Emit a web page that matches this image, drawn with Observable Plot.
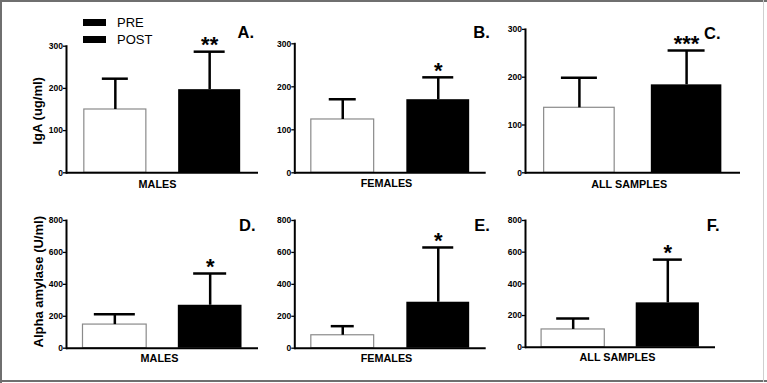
<!DOCTYPE html>
<html><head><meta charset="utf-8">
<script src="https://cdn.jsdelivr.net/npm/d3@7"></script>
<script src="https://cdn.jsdelivr.net/npm/@observablehq/plot@0.6"></script>
<style>
body{margin:0;background:#fff;}
#root{position:relative;width:767px;height:383px;overflow:hidden;background:#fff;font-family:"Liberation Sans",Arial,sans-serif;}
.panel{position:absolute;}
.panel g[aria-label="y-axis tick label"] text, .panel g[aria-label="y-axis tick label"]{font-weight:bold;}
.bd{position:absolute;background:#6f6f6f;}
.sw{position:absolute;width:23px;height:7px;background:#000;}
.lt{position:absolute;font-size:13px;line-height:13px;color:#000;white-space:nowrap;}
</style></head><body><div id="root"></div>
<script>
// ---- data ----
const groups = ["MALES", "FEMALES", "ALL SAMPLES"];
const conditions = ["PRE", "POST"];
const igaPre = [150, 124, 136];
const igaPreUpper = [223, 171, 199];
const igaPost = [197, 170, 184];
const igaPostUpper = [287, 222, 256];
const igaSig = ["**", "*", "***"];
const amyPre = [148, 81, 112];
const amyPreUpper = [213, 138, 181];
const amyPost = [269, 288, 280];
const amyPostUpper = [468, 631, 553];
const amySig = ["*", "*", "*"];
const igaTicks = [0, 100, 200, 300];
const amyTicks = [0, 200, 400, 600, 800];
const panelLetters = ["A.", "B.", "C.", "D.", "E.", "F."];
const yTitles = ["IgA (ug/ml)", "Alpha amylase (U/ml)"];
const legendLabels = ["PRE", "POST"];

// ---- layout (page pixels) ----
const layout = [
  {left:0,   top:0,   width:268, height:195, ml:66,   mr:10,   mt:45.7, mb:22.7, pi:0.3425, po:0.189, capPre:26, capPost:31, lx:253.5, ly:37.3, gx:157,   gy:187,   tdx:-25, tdy:1.3},
  {left:268, top:0,   width:232, height:195, ml:26.3, mr:14.3, mt:43.3, mb:22.7, pi:0.342,  po:0.173, capPre:27, capPost:31, lx:489.3, ly:37.3, gx:386,   gy:186},
  {left:500, top:0,   width:267, height:195, ml:25,   mr:27,   mt:28.9, mb:22.7, pi:0.342,  po:0.174, capPre:36, capPost:37, lx:720,   ly:38.5, gx:628.7, gy:187.7},
  {left:0,   top:195, width:268, height:188, ml:66,   mr:10,   mt:25,   mb:35.3, pi:0.332,  po:0.173, capPre:41, capPost:33, lx:255,   ly:230.7, gx:159,  gy:361.7, tdx:-24, tdy:-2.6},
  {left:268, top:195, width:232, height:188, ml:26.3, mr:14.3, mt:25,   mb:35.3, pi:0.342,  po:0.173, capPre:23, capPost:31, lx:489.3, ly:230.7, gx:386,  gy:361.7},
  {left:500, top:195, width:267, height:188, ml:25,   mr:52,   mt:25,   mb:36.3, pi:0.332,  po:0.17,  capPre:33, capPost:29, lx:719,   ly:230.7, gx:617,  gy:360.7}
];

const root = document.getElementById("root");
const FONT = '"Liberation Sans", Arial, sans-serif';

function makePanel(idx) {
  const row = idx < 3 ? 0 : 1;
  const g = idx % 3;
  const L = layout[idx];
  const pre = row === 0 ? igaPre : amyPre;
  const preU = row === 0 ? igaPreUpper : amyPreUpper;
  const post = row === 0 ? igaPost : amyPost;
  const postU = row === 0 ? igaPostUpper : amyPostUpper;
  const sig = row === 0 ? igaSig : amySig;
  const ticks = row === 0 ? igaTicks : amyTicks;
  const rows = [
    {cond: conditions[0], mean: pre[g], upper: preU[g], sig: ""},
    {cond: conditions[1], mean: post[g], upper: postU[g], sig: sig[g]}
  ];
  const innerW = L.width - L.ml - L.mr;
  const step = innerW / (2 - L.pi + 2 * L.po);
  const bw = step * (1 - L.pi);
  const ax = L.left + L.ml, ay = L.top + L.mt;
  const marks = [
    Plot.barY(rows.filter(d => d.cond === "PRE"), {x: "cond", y: "mean", fill: "#fff", stroke: "#8a8a8a", strokeWidth: 1.2}),
    Plot.barY(rows.filter(d => d.cond === "POST"), {x: "cond", y: "mean", fill: "#000"}),
    Plot.ruleX(rows, {x: "cond", y1: "mean", y2: "upper", stroke: "#000", strokeWidth: 2.5}),
    Plot.tickY(rows.filter(d => d.cond === "PRE"), {x: "cond", y: "upper", stroke: "#000", strokeWidth: 2.5, insetLeft: (bw - L.capPre) / 2, insetRight: (bw - L.capPre) / 2}),
    Plot.tickY(rows.filter(d => d.cond === "POST"), {x: "cond", y: "upper", stroke: "#000", strokeWidth: 2.5, insetLeft: (bw - L.capPost) / 2, insetRight: (bw - L.capPost) / 2}),
    Plot.text(rows.filter(d => d.sig), {x: "cond", y: "upper", text: "sig", fontSize: 22, fontWeight: "bold", fill: "#000", dy: -6.5}),
    Plot.ruleY([0], {stroke: "#000", strokeWidth: 2}),
    Plot.frame({anchor: "left", stroke: "#000", strokeWidth: 2}),
    Plot.axisY({ticks, tickSize: 3, tickPadding: 0.5, fontSize: 8.5, fontWeight: "bold", label: null, stroke: "#000", strokeWidth: 1.3, fill: "#000"}),
    Plot.text([panelLetters[idx]], {frameAnchor: "top-left", textAnchor: "end", lineAnchor: "bottom", dx: L.lx - ax, dy: L.ly - ay, fontSize: 16.5, fontWeight: "bold", fill: "#000"}),
    Plot.text([groups[g]], {frameAnchor: "top-left", textAnchor: "middle", lineAnchor: "bottom", dx: L.gx - ax, dy: L.gy - ay, fontSize: 10.8, fontWeight: "bold", fill: "#000"})
  ];
  if (g === 0) {
    marks.push(Plot.text([yTitles[row]], {frameAnchor: "left", rotate: -90, textAnchor: "middle", lineAnchor: "bottom", dx: L.tdx, dy: L.tdy, fontSize: 13, fontWeight: "bold", fill: "#000"}));
  }
  const svg = Plot.plot({
    width: L.width, height: L.height,
    marginLeft: L.ml, marginRight: L.mr, marginTop: L.mt, marginBottom: L.mb,
    style: {fontFamily: FONT, color: "#000", background: "transparent", overflow: "visible"},
    x: {domain: conditions, paddingInner: L.pi, paddingOuter: L.po, round: false, axis: null},
    y: {domain: [0, ticks[ticks.length - 1]]},
    marks
  });
  svg.classList.add("panel");
  svg.style.left = L.left + "px";
  svg.style.top = L.top + "px";
  root.appendChild(svg);
}
for (let i = 0; i < 6; i++) makePanel(i);

// legend (panel A)
const sw = [19, 36], tb = [15.7, 33];
legendLabels.forEach((lab, i) => {
  const s = document.createElement("div");
  s.className = "sw"; s.style.left = "83px"; s.style.top = sw[i] + "px";
  root.appendChild(s);
  const t = document.createElement("div");
  t.className = "lt"; t.textContent = lab; t.style.left = "117px"; t.style.top = tb[i] + "px";
  root.appendChild(t);
});

// outer border
[["0px","0px","767px","2px"],["0px","0px","2px","383px"],["0px","380px","767px","2px"]].forEach(([l,t,w,h]) => {
  const b = document.createElement("div"); b.className = "bd";
  b.style.left = l; b.style.top = t; b.style.width = w; b.style.height = h;
  root.appendChild(b);
});
const rb = document.createElement("div"); rb.className = "bd";
rb.style.left = "763px"; rb.style.top = "0px"; rb.style.width = "1px"; rb.style.height = "382px"; rb.style.background = "#cfcfcf";
root.appendChild(rb);
</script>
</body></html>
